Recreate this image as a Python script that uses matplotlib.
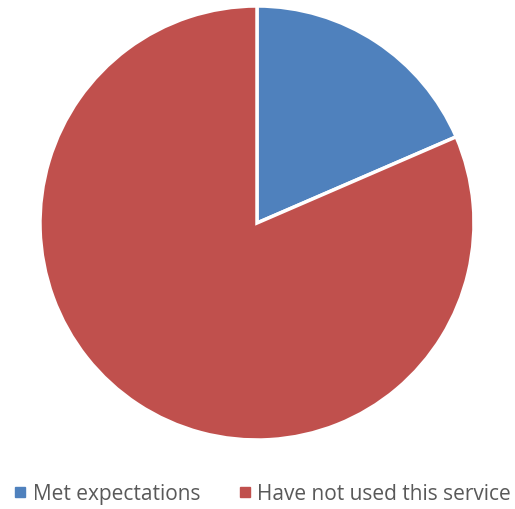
import matplotlib
matplotlib.use("Agg")
import matplotlib.pyplot as plt
from matplotlib.lines import Line2D

categories = ["Met expectations", "Have not used this service"]
values = [18.5, 81.5]
colors = ["#4F81BD", "#C0504D"]

fig = plt.figure(figsize=(5.15, 5.10), dpi=100)
W, H = 515, 510
cx, cy, r = 257, 224, 217
ax = fig.add_axes([(cx - r) / W, (H - cy - r) / H, 2 * r / W, 2 * r / H])
ax.pie(values, colors=colors, startangle=90, counterclock=False,
       wedgeprops=dict(edgecolor="white", linewidth=2.5))
ax.set_xlim(-1, 1)
ax.set_ylim(-1, 1)
ax.set_aspect("equal")
ax.axis("off")

handles = [Line2D([0], [0], marker="s", linestyle="", markersize=6.5,
                  markerfacecolor=c, markeredgecolor=c) for c in colors]
fig.legend(handles, categories, loc="center", bbox_to_anchor=(263 / W, (H - 495) / H),
           ncol=2, frameon=False, labelcolor="#595959",
           handletextpad=0.35, columnspacing=1.9, handlelength=0.5,
           borderpad=0, prop={"family": "Open Sans", "size": 15})
fig.savefig("out.png", dpi=100)
